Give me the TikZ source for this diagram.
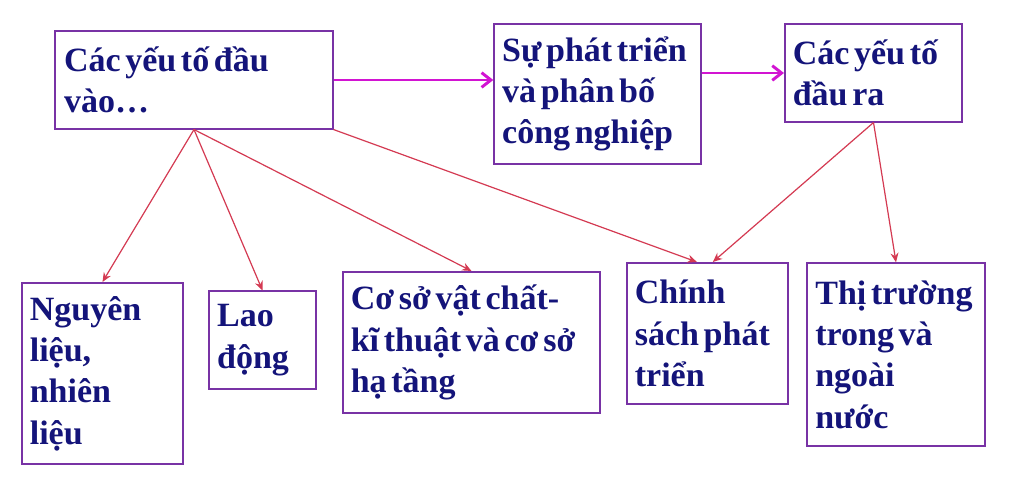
\documentclass[tikz,border=0pt]{standalone}
\usepackage{fontspec}
\setmainfont{Liberation Serif}[WordSpace={0.55,0.2,0.2}]
\usetikzlibrary{positioning, arrows.meta}
\definecolor{boxline}{RGB}{120,50,165}
\definecolor{textnavy}{RGB}{20,20,122}
\definecolor{flowpink}{RGB}{210,20,210}
\definecolor{linkred}{RGB}{212,58,82}
\begin{document}
\begin{tikzpicture}[x=0.75pt, y=-0.75pt,
    box/.style={rectangle, draw=boxline, line width=1.3pt, align=flush left, inner xsep=6pt,
      text=textnavy, font=\bfseries\fontsize{25.5}{31}\selectfont},
    flow/.style={-{Straight Barb[length=7pt, width=11pt]}, flowpink, line width=2.2pt},
    link/.style={-{Stealth[length=7pt, width=6pt]}, linkred, line width=0.9pt}
  ]
  \useasboundingbox[fill=white] (0,0) rectangle (1024,500);

  % Top row
  \node[box, minimum width=208pt, minimum height=73pt, text width=195pt] (inp) at (194,80) {Các yếu tố đầu\\vào\ldots};
  \node[box, minimum width=155pt, minimum height=105pt, text width=143pt] (dev) at (597.5,94) {Sự phát triển\\và phân bố\\công nghiệp};
  \node[box, minimum width=133pt, minimum height=73pt, text width=121pt] (outp) at (873.5,73) {Các yếu tố\\đầu ra};

  % Bottom row
  \node[box, minimum width=121pt, minimum height=136pt, text width=109pt] (nl) at (102.5,373.5) {Nguyên\\liệu,\\nhiên\\liệu};
  \node[box, minimum width=80pt, minimum height=73pt, text width=68pt] (ld) at (262.5,340) {Lao\\động};
  \node[box, minimum width=193pt, minimum height=106pt, text width=181pt] (csvc) at (471.5,342.5) {Cơ sở vật chất-\\kĩ thuật và cơ sở\\hạ tầng};
  \node[box, minimum width=121pt, minimum height=106pt, text width=109pt] (cs) at (707.5,333.5) {Chính\\sách phát\\triển};
  \node[box, minimum width=133pt, minimum height=137pt, text width=121pt] (tt) at (896,354.5) {Thị trường\\trong và\\ngoài\\nước};

  % Main flow
  \draw[flow] (inp.east) -- (inp.east -| dev.west);
  \draw[flow] (dev.east |- outp.west) -- (outp.west);

  % Inputs
  \draw[link] (inp.south) -- (nl.north);
  \draw[link] (inp.south) -- (ld.north);
  \draw[link] (inp.south) -- (csvc.north);
  \draw[link] (inp.south east) -- ([xshift=-8pt]cs.north);

  % Outputs
  \draw[link] (outp.south) -- ([xshift=4pt]cs.north);
  \draw[link] (outp.south) -- (tt.north);
\end{tikzpicture}
\end{document}
